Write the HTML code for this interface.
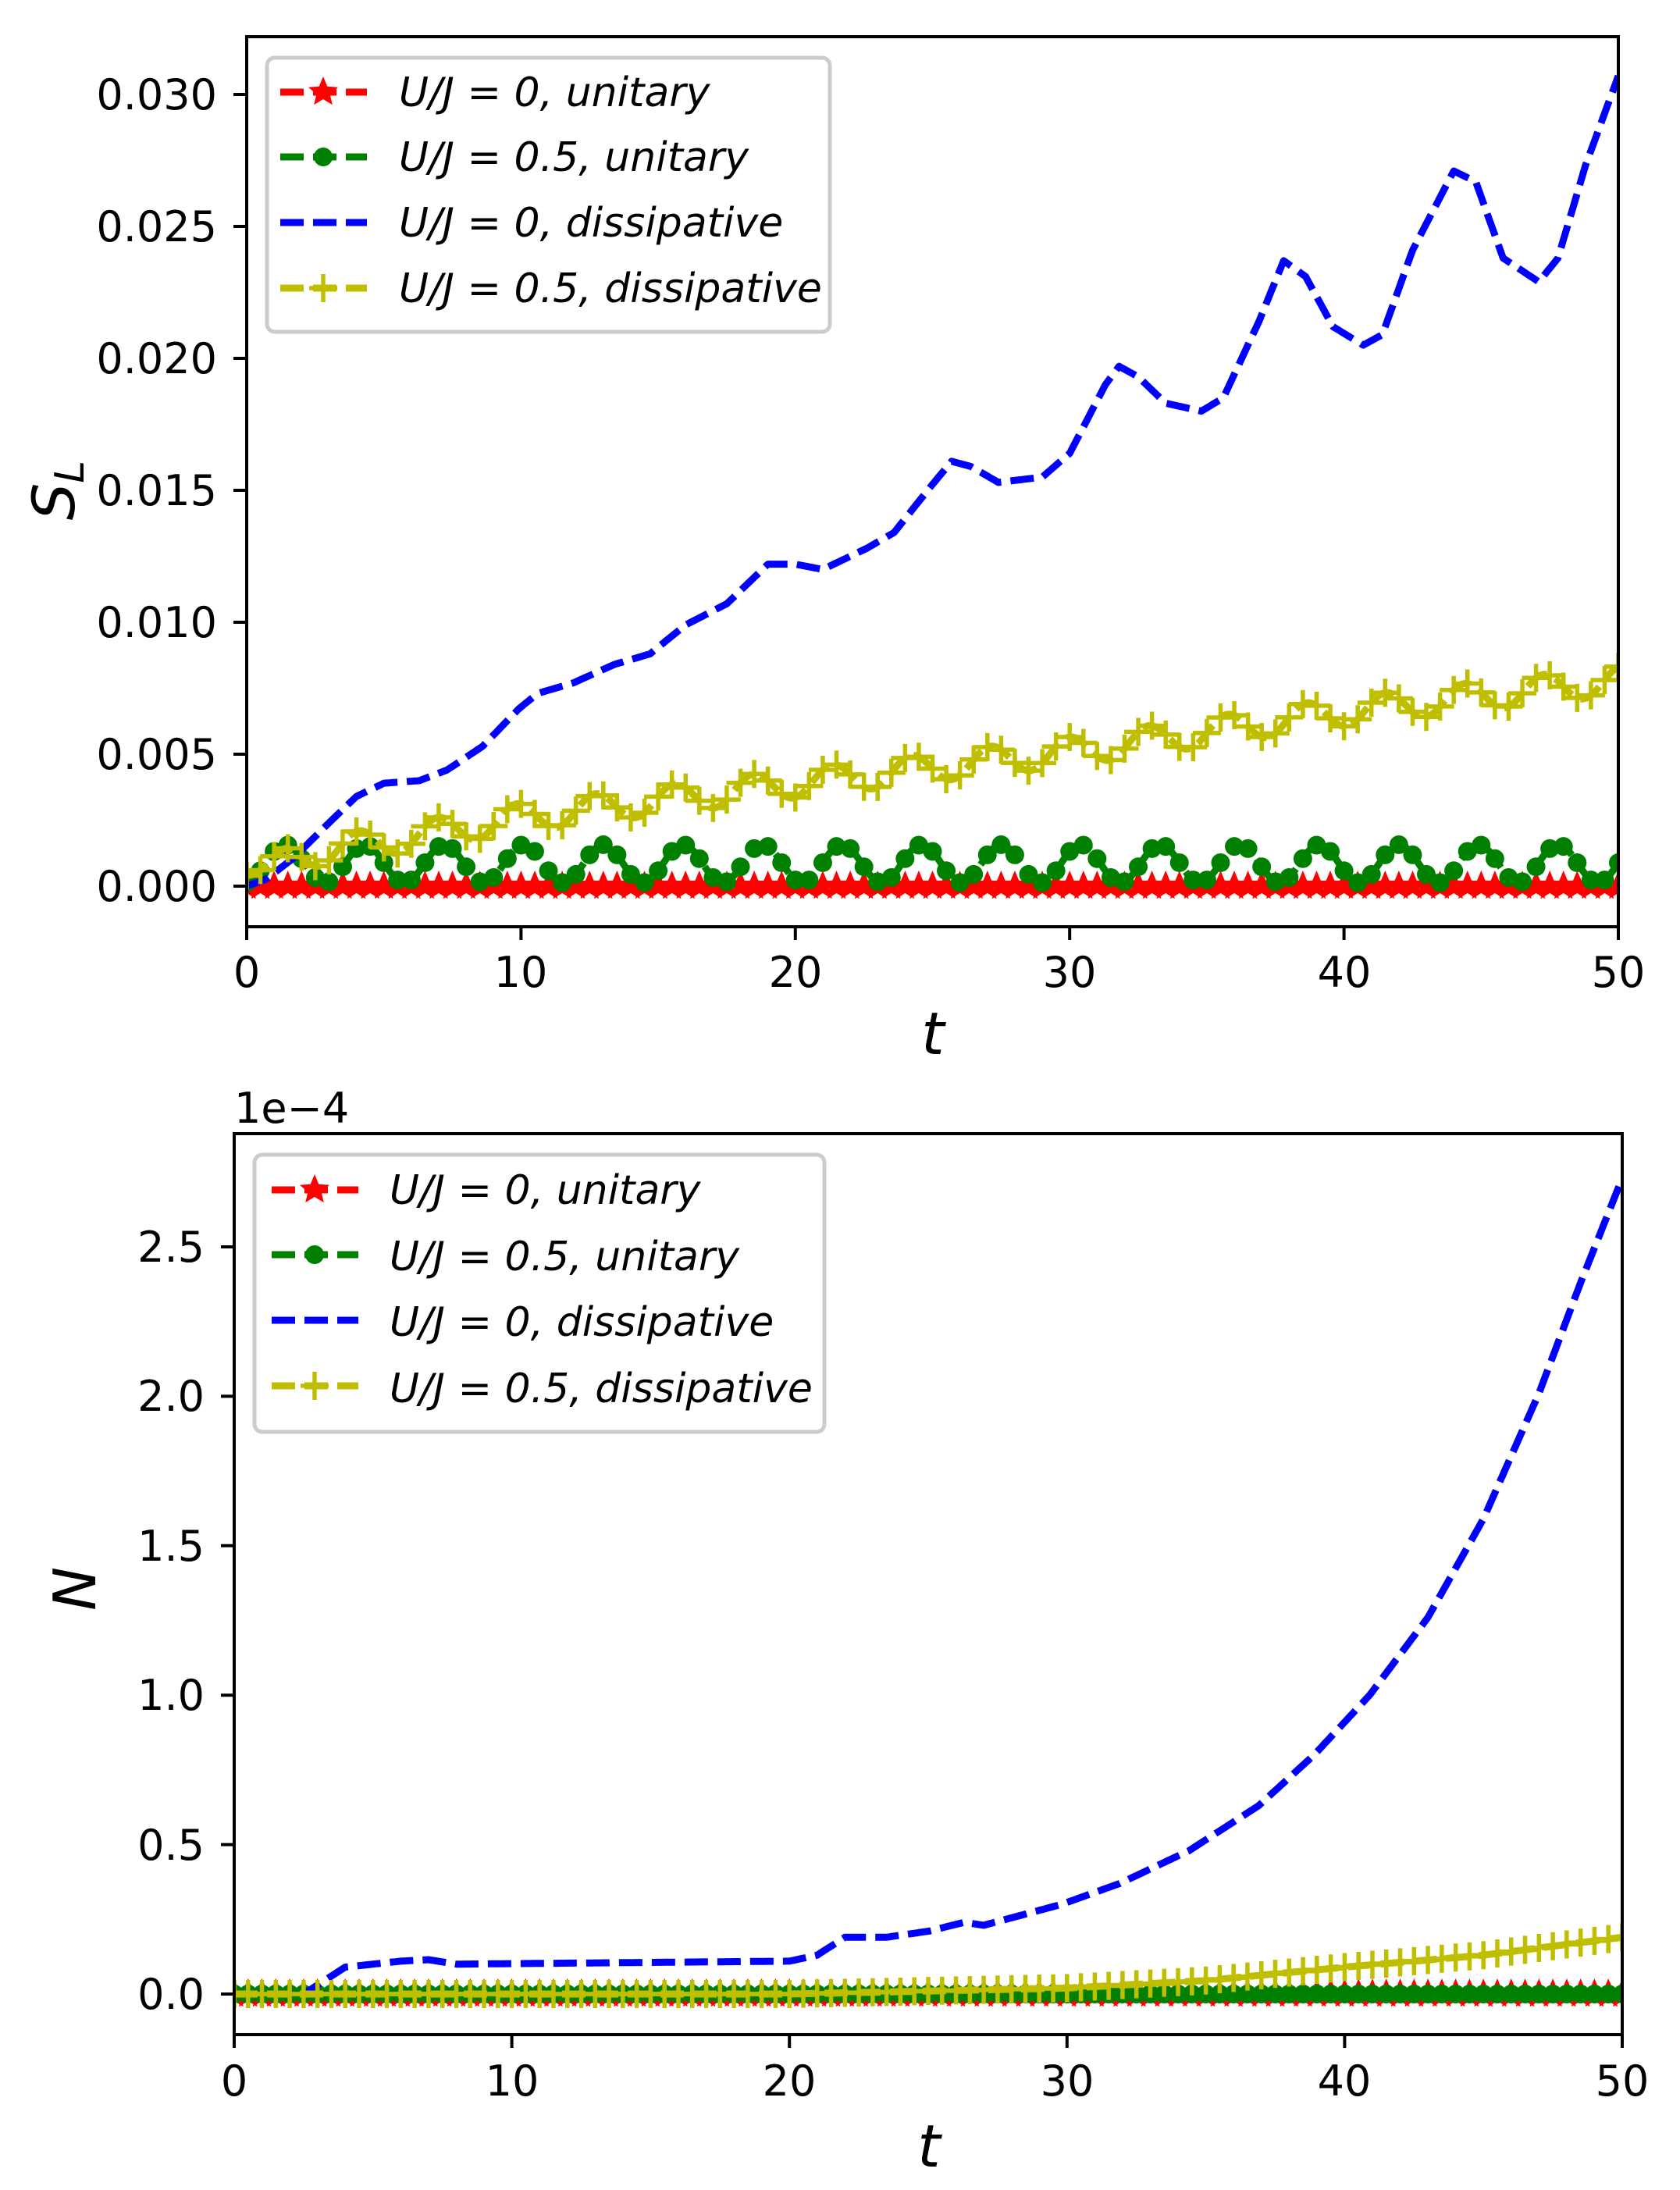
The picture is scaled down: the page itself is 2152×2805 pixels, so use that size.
<!DOCTYPE html>
<html><head><meta charset="utf-8"><style>
html,body{margin:0;padding:0;background:#fff;}
svg{display:block;}
text{font-family:"DejaVu Sans","Liberation Sans",sans-serif;fill:#000;}
</style></head><body>
<svg id="s" width="2152" height="2805" viewBox="0 0 2152 2805" xmlns="http://www.w3.org/2000/svg">
<defs>
<clipPath id="c1"><rect x="316" y="47" width="1757" height="1140"/></clipPath>
<clipPath id="c2"><rect x="300" y="1452" width="1778" height="1154"/></clipPath>
</defs>
<g id="p1" clip-path="url(#c1)"></g>
<g id="p2" clip-path="url(#c2)"></g>
<rect x="316" y="47" width="1757" height="1140" fill="none" stroke="#000" stroke-width="4"/>
<rect x="300" y="1452" width="1778" height="1154" fill="none" stroke="#000" stroke-width="4"/>
<g id="ticks" stroke="#000" stroke-width="4"></g>
<g font-size="54">
<g text-anchor="end">
<text x="278" y="1154">0.000</text>
<text x="278" y="985">0.005</text>
<text x="278" y="816">0.010</text>
<text x="278" y="647">0.015</text>
<text x="278" y="478">0.020</text>
<text x="278" y="309">0.025</text>
<text x="278" y="140">0.030</text>
</g>
<g text-anchor="middle">
<text x="316" y="1264">0</text>
<text x="667" y="1264">10</text>
<text x="1019" y="1264">20</text>
<text x="1370" y="1264">30</text>
<text x="1722" y="1264">40</text>
<text x="2073" y="1264">50</text>
</g>
<g text-anchor="end">
<text x="262" y="2573">0.0</text>
<text x="262" y="2382">0.5</text>
<text x="262" y="2190">1.0</text>
<text x="262" y="1999">1.5</text>
<text x="262" y="1807">2.0</text>
<text x="262" y="1616">2.5</text>
</g>
<g text-anchor="middle">
<text x="300" y="2684">0</text>
<text x="656" y="2684">10</text>
<text x="1011" y="2684">20</text>
<text x="1367" y="2684">30</text>
<text x="1722" y="2684">40</text>
<text x="2078" y="2684">50</text>
</g>
<text x="300" y="1438">1e−4</text>
</g>
<text x="1195" y="1350" font-size="75" font-style="italic" text-anchor="middle">t</text>
<text x="1190" y="2775" font-size="75" font-style="italic" text-anchor="middle">t</text>
<text transform="translate(95,628) rotate(-90)" font-size="75" font-style="italic" text-anchor="middle">S<tspan font-size="52" dy="12">L</tspan></text>
<text transform="translate(122,2035) rotate(-90)" font-size="75" font-style="italic" text-anchor="middle">N</text>
<rect x="342" y="74" width="721" height="351" rx="10" fill="#fff" fill-opacity="0.85" stroke="#ccc" stroke-width="5"/>
<rect x="326" y="1479" width="730" height="355" rx="10" fill="#fff" fill-opacity="0.85" stroke="#ccc" stroke-width="5"/>
<g id="leg"></g>
<g font-size="52" font-style="italic">
<text x="511" y="136">U/J = 0, unitary</text>
<text x="511" y="219">U/J = 0.5, unitary</text>
<text x="511" y="303">U/J = 0, dissipative</text>
<text x="511" y="387">U/J = 0.5, dissipative</text>
<text x="499" y="1542">U/J = 0, unitary</text>
<text x="499" y="1627">U/J = 0.5, unitary</text>
<text x="499" y="1711">U/J = 0, dissipative</text>
<text x="499" y="1796">U/J = 0.5, dissipative</text>
</g>
</svg>
<script>
var NS="http://www.w3.org/2000/svg";
function el(p,n,a){var e=document.createElementNS(NS,n);for(var k in a)e.setAttribute(k,a[k]);p.appendChild(e);return e;}
function interp(pts,t){if(t<=pts[0][0])return pts[0][1];for(var i=1;i<pts.length;i++){if(t<=pts[i][0]){var a=pts[i-1],b=pts[i];var u=(t-a[0])/(b[0]-a[0]);return a[1]+(b[1]-a[1])*u;}}return pts[pts.length-1][1];}
var R="#ff0000",G="#008000",B="#0000ff",Y="#bfbf00";
function star(g,x,y,r,c){var s="";for(var i=0;i<10;i++){var rr=i%2?r*0.45:r;var a=-Math.PI/2+i*Math.PI/5;s+=(x+rr*Math.cos(a)).toFixed(1)+","+(y+rr*Math.sin(a)).toFixed(1)+" ";}el(g,"polygon",{points:s,fill:c});}
function dot(g,x,y,c){el(g,"circle",{cx:x,cy:y,r:12,fill:c});}
function plus(g,x,y,c){el(g,"path",{d:"M"+(x-18)+","+y+"H"+(x+18)+"M"+x+","+(y-18)+"V"+(y+18),stroke:c,"stroke-width":5.5,fill:"none"});}
function series(g,X,Y,f,c,mk){var d="";for(var i=0;i<=500;i++){var t=i*0.1;d+=(i?"L":"M")+X(t).toFixed(1)+","+Y(f(t)).toFixed(1);}
el(g,"path",{d:d,fill:"none",stroke:c,"stroke-width":9,"stroke-dasharray":"30 12","stroke-linejoin":"round"});
if(mk)for(var j=0;j<=100;j++){var t=j*0.5;mk(g,X(t),Y(f(t)),c);}}
var g1=document.getElementById("p1");
var X1=function(t){return 316+t*35.14},Y1=function(v){return 1135-v*33.8};
var blue1=[[0,0],[0.7,0.26],[1.7,1.06],[3,2.4],[4,3.4],[5,3.9],[6.3,4.0],[7.3,4.4],[8.6,5.3],[9.9,6.7],[10.6,7.3],[11.9,7.7],[13.4,8.4],[14.7,8.8],[16,9.9],[17.5,10.7],[19,12.2],[20,12.2],[21,12.0],[22.6,12.8],[23.6,13.4],[24.9,15.1],[25.7,16.1],[26.4,15.9],[27.4,15.3],[29,15.5],[30,16.4],[31.3,19.0],[31.8,19.7],[32.5,19.3],[33.5,18.3],[34.8,18.0],[35.6,18.5],[36.9,21.4],[37.8,23.7],[38.6,23.1],[39.6,21.2],[40.7,20.5],[41.4,20.9],[42.5,24.1],[44,27.1],[44.8,26.7],[45.8,23.8],[47.1,22.9],[47.8,23.8],[48.8,27.3],[50,30.7]];
var ymean=[[0,0.4],[2,1.2],[5,1.7],[10,2.6],[20,3.9],[30,5.1],[40,6.6],[50,7.8]];
series(g1,X1,Y1,function(t){return 0},R,function(g,x,y,c){star(g,x,y,20,c)});
series(g1,X1,Y1,function(t){return 0.85+0.72*Math.cos(2*Math.PI*(t-1.4)/2.9)},G,dot);
series(g1,X1,Y1,function(t){return interp(blue1,t)},B,null);
series(g1,X1,Y1,function(t){return interp(ymean,t)+0.55*Math.min(1,t/1.5)*Math.cos(2*Math.PI*(t-1.2)/2.88)},Y,plus);
var g2=document.getElementById("p2");
var X2=function(t){return 300+t*35.56},Y2=function(v){return 2554-v*382.8};
var blue2=[[0,0],[2.5,0],[4,0.09],[6,0.11],[7,0.115],[8,0.10],[20,0.11],[21,0.13],[22,0.19],[23.5,0.19],[25,0.21],[26.3,0.24],[27,0.23],[29.8,0.30],[31.9,0.37],[34.4,0.48],[36.9,0.63],[38.9,0.80],[40.9,1.0],[43,1.26],[45,1.59],[47,2.01],[48.5,2.38],[50,2.73]];
var y2=[[0,0],[20,0.0],[25,0.01],[30,0.02],[35,0.045],[40,0.09],[45,0.13],[50,0.19]];
series(g2,X2,Y2,function(t){return 0},R,function(g,x,y,c){star(g,x,y,20,c)});
series(g2,X2,Y2,function(t){return 0},G,dot);
series(g2,X2,Y2,function(t){return interp(blue2,t)},B,null);
series(g2,X2,Y2,function(t){return interp(y2,t)},Y,plus);
var tk=document.getElementById("ticks");
for(var i=0;i<=5;i++){var x=316+i*351.4;el(tk,"line",{x1:x,y1:1187,x2:x,y2:1204});
x=300+i*355.6;el(tk,"line",{x1:x,y1:2606,x2:x,y2:2623});
var y=1135-i*169;el(tk,"line",{x1:299,y1:y,x2:316,y2:y});
y=2554-i*191.4;el(tk,"line",{x1:283,y1:y,x2:300,y2:y});}
el(tk,"line",{x1:299,y1:121,x2:316,y2:121});
var lg=document.getElementById("leg");
function handle(x0,y,c,mk){el(lg,"path",{d:"M"+x0+","+y+"H"+(x0+111),stroke:c,"stroke-width":9,"stroke-dasharray":"30 12",fill:"none"});if(mk)mk(lg,x0+55,y,c);}
var rows=[[118,R,function(g,x,y,c){star(g,x,y,20,c)}],[201,G,dot],[285,B,null],[369,Y,plus]];
rows.forEach(function(r){handle(359,r[0],r[1],r[2]);handle(348,r[0]+1406,r[1],r[2]);});
</script>
</body></html>
